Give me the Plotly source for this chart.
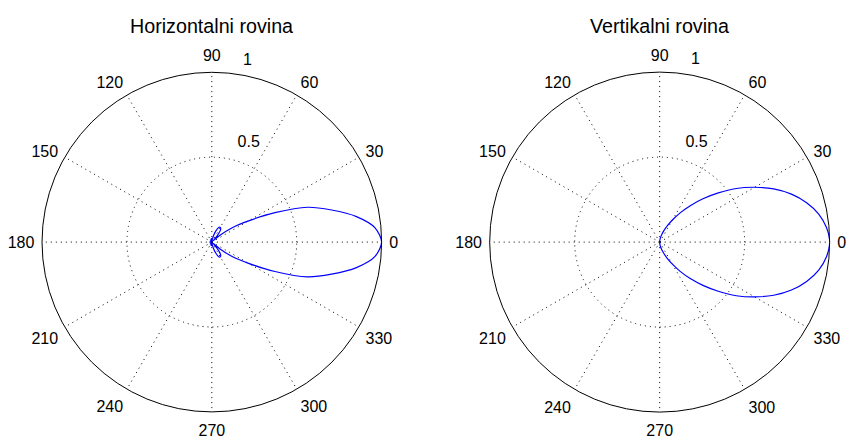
import math
import plotly.graph_objects as go
from plotly.subplots import make_subplots

# angles (deg) for one half of each pattern; the other half is its mirror image
theta_half = [0, 5, 10, 15, 20, 25, 30, 35, 40, 45, 50, 55, 60, 65, 70, 75, 80, 85, 90,
              95, 100, 110, 120, 130, 140, 150, 160, 170, 180]

# horizontal plane: narrow main lobe plus small side lobe
r_horiz_half = [1.0, 0.965, 0.865, 0.73, 0.6, 0.41, 0.25, 0.15, 0.06, 0.01, 0.05, 0.09, 0.1,
                0.095, 0.07, 0.04, 0.015, 0.005, 0.015, 0.02, 0.02, 0.015, 0.01, 0.01, 0.01,
                0.01, 0.01, 0.01, 0.01]

# vertical plane: wide lobe, nothing behind
r_vert_half = [1.0, 0.985, 0.95, 0.895, 0.825, 0.74, 0.645, 0.55, 0.45, 0.36, 0.28, 0.21, 0.15,
               0.105, 0.07, 0.045, 0.025, 0.01, 0.0, 0.0, 0.0, 0.0, 0.0, 0.0, 0.0, 0.0, 0.0, 0.0, 0.0]

titles = ["Horizontalni rovina", "Vertikalni rovina"]
angle_ticks = list(range(0, 360, 30))
radial_ticks = [0.5, 1]

W, H = 849, 437
domains_x = [[0.0495, 0.4495], [0.576, 0.978]]
domain_y = [0.057, 0.835]


def full_circle(vals):
    return vals + vals[-2::-1]


theta = theta_half + [360 - t for t in theta_half[-2::-1]]

fig = make_subplots(rows=1, cols=2, specs=[[{"type": "polar"}, {"type": "polar"}]])

font = dict(family="Liberation Sans, Arial, sans-serif", size=16, color="black")

for i, half in enumerate([r_horiz_half, r_vert_half]):
    fig.add_trace(go.Scatterpolar(
        r=full_circle(half), theta=theta, mode="lines",
        line=dict(color="#0000ff", width=1.2, shape="spline", smoothing=0.8),
        showlegend=False, hoverinfo="skip",
    ), row=1, col=i + 1)
    # inner ring label, MATLAB style
    fig.add_trace(go.Scatterpolar(
        r=[0.62], theta=[69.5], mode="text",
        text=["0.5"], textfont=font, cliponaxis=False,
        showlegend=False, hoverinfo="skip",
    ), row=1, col=i + 1)

polar_common = dict(
    bgcolor="white",
    angularaxis=dict(
        rotation=0, direction="counterclockwise",
        tickvals=angle_ticks, ticktext=[str(a) for a in angle_ticks],
        showline=True, linecolor="black", linewidth=1,
        gridcolor="black", griddash="1px,4px", gridwidth=1,
        ticks="outside", ticklen=4, tickcolor="rgba(0,0,0,0)",
        tickfont=font,
    ),
    radialaxis=dict(
        range=[0, 1], tickvals=radial_ticks, showticklabels=False,
        showline=False, ticks="",
        gridcolor="black", griddash="1px,4px", gridwidth=1,
    ),
)

fig.update_layout(
    width=W, height=H,
    margin=dict(l=0, r=0, t=0, b=0),
    paper_bgcolor="white",
    polar=dict(domain=dict(x=domains_x[0], y=domain_y), **polar_common),
    polar2=dict(domain=dict(x=domains_x[1], y=domain_y), **polar_common),
)

for dx, t in zip(domains_x, titles):
    cx = (dx[0] + dx[1]) / 2
    fig.add_annotation(
        text=t, x=cx, y=0.94, xref="paper", yref="paper",
        xanchor="center", yanchor="middle", showarrow=False,
        font=dict(family="Liberation Sans, Arial, sans-serif", size=19.7, color="black"),
    )
    # outer ring label "1" sits outside the radial range, so place it on paper
    cy = (domain_y[0] + domain_y[1]) / 2
    rad_px = (dx[1] - dx[0]) * W / 2
    a = math.radians(79)
    fig.add_annotation(
        text="1", x=cx + 1.094 * rad_px * math.cos(a) / W,
        y=cy + 1.094 * rad_px * math.sin(a) / H,
        xref="paper", yref="paper", xanchor="center", yanchor="middle",
        showarrow=False, font=font,
    )

fig.write_html("out.html", config={"displayModeBar": False},
               post_script="document.body.style.margin='0';")
